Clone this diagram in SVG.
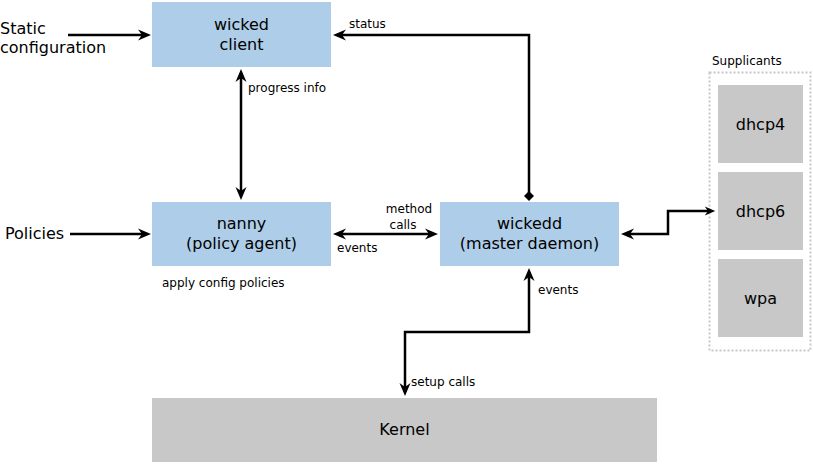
<svg xmlns="http://www.w3.org/2000/svg" width="813" height="465" viewBox="0 0 813 465">
<style>
text{font-family:"DejaVu Sans","Liberation Sans",sans-serif;fill:#000}
.n{font-size:16px;text-anchor:middle}
.l{font-size:16px}
.s{font-size:12px}
.blue{fill:#aecde8}
.gray{fill:#c8c8c8}
.c{fill:none;stroke:#000;stroke-width:2.5}
</style>
<defs>
<marker id="ah" markerUnits="userSpaceOnUse" viewBox="-5 -6 15 12" markerWidth="15" markerHeight="12" refX="0" refY="0" orient="auto-start-reverse">
<path d="M9,0 L-4,-5.5 L0,0 L-4,5.5 Z" fill="#000"/>
</marker>
<marker id="ahs" markerUnits="userSpaceOnUse" viewBox="-5 -6 15 12" markerWidth="12" markerHeight="9.6" refX="0" refY="0" orient="auto">
<path d="M9,0 L-4,-5.5 L0,0 L-4,5.5 Z" fill="#000"/>
</marker>
<marker id="dm" markerUnits="userSpaceOnUse" viewBox="-6 -6 12 12" markerWidth="12" markerHeight="12" refX="0" refY="0" orient="auto">
<path d="M-5,0 L0,-5 L5,0 L0,5 Z" fill="#000"/>
</marker>
</defs>

<g id="static-config">
<text class="l" x="0" y="34">Static</text>
<text class="l" x="0" y="53">configuration</text>
</g>
<g id="policies">
<text class="l" x="5" y="239">Policies</text>
</g>

<g id="wicked-client">
<rect class="blue" x="152" y="2" width="179" height="65"/>
<text class="n" x="241.5" y="30">wicked</text>
<text class="n" x="241.5" y="50">client</text>
</g>

<g id="nanny">
<rect class="blue" x="152" y="202" width="179" height="64"/>
<text class="n" x="241.5" y="229">nanny</text>
<text class="n" x="241.5" y="249">(policy agent)</text>
<text class="s" x="162" y="287">apply config policies</text>
</g>

<g id="wickedd">
<rect class="blue" x="440" y="202" width="179" height="64"/>
<text class="n" x="529.5" y="229">wickedd</text>
<text class="n" x="529.5" y="249">(master daemon)</text>
</g>

<g id="kernel">
<rect class="gray" x="152" y="398" width="505" height="64"/>
<text class="n" x="404.5" y="435">Kernel</text>
</g>

<g id="supplicants">
<rect x="709.5" y="72.5" width="101" height="278" fill="none" stroke="#c8c8c8" stroke-width="2" stroke-dasharray="2,2"/>
<text class="s" x="712" y="65">Supplicants</text>
<g id="dhcp4">
<rect class="gray" x="718" y="85" width="85" height="78"/>
<text class="n" x="760.5" y="130">dhcp4</text>
</g>
<g id="dhcp6">
<rect class="gray" x="718" y="172" width="85" height="78"/>
<text class="n" x="760.5" y="217">dhcp6</text>
</g>
<g id="wpa">
<rect class="gray" x="718" y="259" width="85" height="78"/>
<text class="n" x="760.5" y="304">wpa</text>
</g>
</g>

<g id="connectors">
<path class="c" d="M68,35 H142" marker-end="url(#ah)"/>
<path class="c" d="M529,196 V35 H342" marker-start="url(#dm)" marker-end="url(#ah)"/>
<path class="c" d="M241,78 V191" marker-start="url(#ah)" marker-end="url(#ah)"/>
<path class="c" d="M70,234 H142" marker-end="url(#ah)"/>
<path class="c" d="M342,234 H429" marker-start="url(#ah)" marker-end="url(#ah)"/>
<path class="c" d="M630,234 H668 V211 H708" marker-start="url(#ah)" marker-end="url(#ahs)"/>
<path class="c" d="M529,277 V332 H405 V387" marker-start="url(#ah)" marker-end="url(#ah)"/>
<text class="s" x="349" y="28">status</text>
<text class="s" x="248" y="92">progress info</text>
<text class="s" x="409" y="213" text-anchor="middle">method</text>
<text class="s" x="403" y="229" text-anchor="middle">calls</text>
<text class="s" x="337" y="252">events</text>
<text class="s" x="538" y="294">events</text>
<text class="s" x="411" y="386">setup calls</text>
</g>
</svg>
